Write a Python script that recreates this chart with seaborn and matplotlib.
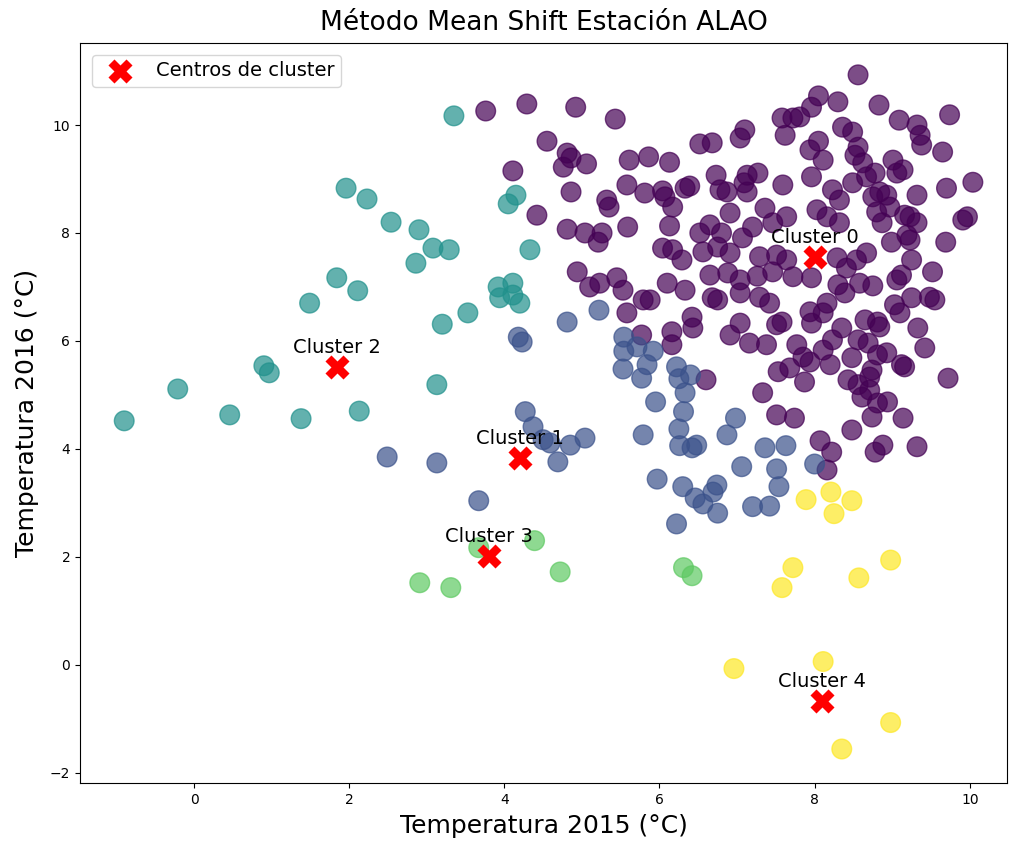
import matplotlib
matplotlib.use("Agg")
import matplotlib.pyplot as plt
import numpy as np
import pandas as pd
import seaborn as sns

# ---- data ----
# Cluster 0 (purple)
c0_x = [3.76, 4.29, 4.92, 5.43, 4.55, 4.81, 4.86, 4.76, 5.06, 5.61, 4.11, 4.86, 5.58, 5.32, 5.35,
        4.42, 4.81, 5.04, 5.26, 5.21, 5.59, 4.94, 5.45, 5.23, 5.10, 5.53, 5.58,
        8.05, 7.96, 7.58, 7.72, 7.81, 7.62, 7.10, 7.04, 6.52, 6.68, 7.94, 5.86, 6.13, 6.73, 7.13,
        7.27, 7.09, 7.13, 6.78, 6.87, 6.39, 6.33, 7.59, 5.81, 6.04, 6.07, 6.17, 6.13, 7.96, 8.03,
        6.91, 7.36, 7.64, 6.52, 6.65, 6.80, 7.20, 7.46, 7.07, 6.04, 6.17, 6.29, 6.56, 6.75, 6.91,
        7.29, 7.51, 7.64,
        8.56, 8.30, 8.83, 9.74, 9.09, 9.32, 9.36, 9.38, 9.65, 8.36, 8.49, 8.56, 8.52, 8.05, 8.11,
        9.01, 9.14, 9.06, 8.62, 8.78, 8.49, 8.67, 8.84, 8.75, 8.93, 9.32, 9.70, 10.04, 8.80, 8.97,
        8.87, 9.16, 9.32, 9.23, 9.97, 9.91, 8.23, 8.32, 8.16, 8.32, 8.99, 9.19, 9.23, 9.69, 9.25,
        8.67, 8.54, 9.52,
        9.06, 9.12, 8.75, 8.58, 8.39, 8.30, 8.16, 8.11, 9.03, 9.10, 9.25, 9.55, 9.48, 8.65, 8.81,
        8.84, 9.33, 9.42, 8.35, 8.23, 8.56, 8.69, 8.48, 8.11, 8.20, 8.81, 8.93, 9.12, 9.16, 8.74,
        8.71, 9.72, 8.43, 8.56, 8.71, 8.61, 8.81, 8.94, 8.74, 9.14, 8.48, 8.78, 8.88, 9.32, 8.22,
        8.07, 8.16,
        6.10, 6.33, 6.65, 6.88, 7.04, 7.04, 6.68, 6.75, 5.79, 5.88, 6.42, 6.43, 6.16, 6.16, 5.77,
        6.91, 7.04, 7.16, 7.38, 7.29, 7.42, 7.51, 7.58, 7.94, 7.96, 7.77, 7.85, 7.94, 7.53, 7.68,
        7.87, 7.33, 7.51, 7.74, 6.60,
        7.26, 7.46, 7.72, 7.96, 8.29, 8.41]
c0_y = [10.26, 10.39, 10.33, 10.11, 9.70, 9.48, 9.39, 9.22, 9.28, 9.35, 9.15, 8.76, 8.89, 8.61, 8.48,
        8.33, 8.07, 8.00, 8.00, 7.83, 8.11, 7.28, 7.17, 7.07, 7.00, 6.94, 6.52,
        10.54, 10.33, 10.13, 10.13, 10.15, 9.81, 9.91, 9.76, 9.65, 9.67, 9.54, 9.41, 9.31, 9.07, 9.07,
        9.11, 8.93, 8.76, 8.80, 8.76, 8.87, 8.83, 8.89, 8.74, 8.78, 8.67, 8.48, 8.13, 9.04, 8.43,
        8.37, 8.46, 8.30, 8.00, 8.15, 8.00, 8.11, 8.19, 7.91, 7.72, 7.69, 7.50, 7.65, 7.74, 7.63,
        7.56, 7.59, 7.50,
        10.93, 10.43, 10.37, 10.19, 10.09, 10.00, 9.81, 9.63, 9.50, 9.96, 9.87, 9.59, 9.44, 9.70, 9.35,
        9.35, 9.17, 9.11, 9.30, 9.11, 8.93, 9.04, 8.76, 8.67, 8.70, 8.70, 8.83, 8.94, 8.39, 8.48,
        8.19, 8.33, 8.19, 8.30, 8.30, 8.24, 8.80, 8.61, 8.30, 8.19, 7.83, 7.96, 7.87, 7.83, 7.50,
        7.63, 7.50, 7.28,
        7.13, 7.22, 7.02, 7.07, 6.89, 7.04, 6.70, 6.52, 6.67, 6.52, 6.80, 6.76, 6.81, 6.39, 6.35,
        6.26, 6.24, 5.87, 6.24, 6.02, 6.02, 5.96, 5.69, 5.83, 5.56, 5.74, 5.78, 5.56, 5.52, 5.46,
        5.33, 5.31, 5.28, 5.19, 5.09, 4.96, 4.85, 4.87, 4.59, 4.57, 4.35, 3.94, 4.07, 4.04, 3.94,
        4.15, 3.61,
        7.07, 6.94, 7.22, 7.26, 7.13, 6.89, 6.80, 6.76, 6.76, 6.76, 6.44, 6.24, 6.17, 5.93, 6.11,
        6.11, 6.33, 5.96, 5.93, 6.81, 6.70, 6.30, 6.35, 6.54, 6.33, 5.93, 5.70, 5.61, 5.43, 5.50,
        5.24, 5.04, 4.63, 4.57, 5.28,
        7.20, 7.28, 7.19, 7.17, 7.54, 7.35]

# Cluster 1 (blue)
c1_x = [2.49, 3.13, 3.67, 4.18, 4.23, 4.27, 4.37, 4.50, 4.59, 4.85, 5.04, 4.69, 4.81, 5.22, 5.54,
        5.54, 5.71, 5.92, 5.53, 5.84, 5.77, 6.22, 6.25, 6.40, 6.33, 6.31, 5.95, 6.25, 5.79, 6.26,
        6.42, 6.48, 6.98, 6.87, 7.36, 7.63, 7.06, 7.51, 8.00, 5.97, 6.30, 6.46, 6.56, 6.69, 6.74,
        6.75, 7.20, 7.42, 7.54, 6.22]
c1_y = [3.85, 3.74, 3.04, 6.07, 5.98, 4.69, 4.41, 4.17, 4.11, 4.07, 4.20, 3.76, 6.35, 6.57, 6.07,
        5.81, 5.89, 5.81, 5.48, 5.56, 5.31, 5.52, 5.30, 5.37, 5.04, 4.69, 4.87, 4.37, 4.26, 4.06,
        4.02, 4.07, 4.57, 4.26, 4.02, 4.06, 3.67, 3.63, 3.72, 3.44, 3.30, 3.09, 2.98, 3.20, 3.33,
        2.81, 2.93, 2.94, 3.30, 2.61]

# Cluster 2 (teal)
c2_x = [-0.90, -0.21, 0.46, 0.90, 0.97, 1.38, 1.84, 1.96, 2.23, 2.54, 2.90, 3.08, 3.29, 2.86, 3.35,
        2.11, 1.49, 3.13, 2.13, 3.53, 3.20, 3.92, 4.11, 3.94, 4.11, 4.20, 4.15, 4.05, 4.33]
c2_y = [4.52, 5.11, 4.63, 5.54, 5.41, 4.56, 7.17, 8.83, 8.63, 8.20, 8.06, 7.72, 7.69, 7.44, 10.17,
        6.93, 6.70, 5.19, 4.70, 6.52, 6.31, 7.00, 7.07, 6.80, 6.85, 6.70, 8.70, 8.54, 7.69]

# Cluster 3 (green)
c3_x = [2.91, 3.31, 3.67, 4.39, 4.72, 6.31, 6.42]
c3_y = [1.52, 1.43, 2.17, 2.30, 1.72, 1.80, 1.65]

# Cluster 4 (yellow)
c4_x = [7.89, 8.21, 8.48, 8.25, 7.72, 7.58, 8.57, 8.98, 6.96, 8.11, 8.98, 8.35]
c4_y = [3.06, 3.20, 3.04, 2.80, 1.80, 1.43, 1.61, 1.94, -0.07, 0.06, -1.07, -1.56]

# Cluster centres
centre_x = [8.00, 4.20, 1.84, 3.80, 8.09]
centre_y = [7.56, 3.83, 5.52, 2.02, -0.67]
centre_labels = ["Cluster 0", "Cluster 1", "Cluster 2", "Cluster 3", "Cluster 4"]

# ---- build table ----
xs = [c0_x, c1_x, c2_x, c3_x, c4_x]
ys = [c0_y, c1_y, c2_y, c3_y, c4_y]
frames = [pd.DataFrame({"x": x, "y": y, "cluster": k}) for k, (x, y) in enumerate(zip(xs, ys))]
df = pd.concat(frames, ignore_index=True)
centres = pd.DataFrame({"x": centre_x, "y": centre_y})

palette = {k: plt.cm.viridis(k / 4) for k in range(5)}

fig = plt.figure(figsize=(10.09, 8.46), dpi=100)
ax = fig.add_axes([80 / 1009, 63 / 846, 927 / 1009, 740 / 846])

sns.scatterplot(data=df, x="x", y="y", hue="cluster", palette=palette, s=200,
                alpha=0.7, edgecolor="face", linewidth=1, legend=False, ax=ax)
sns.scatterplot(data=centres, x="x", y="y", marker="X", s=300, color="red",
                linewidth=0, label="Centros de cluster", ax=ax)

for lab, cxv, cyv in zip(centre_labels, centre_x, centre_y):
    ax.annotate(lab, (cxv, cyv), textcoords="offset points", xytext=(0, 10),
                ha="center", fontsize=14)

ax.set_xlim(-1.47, 10.48)
ax.set_ylim(-2.19, 11.52)
ax.set_xticks([0, 2, 4, 6, 8, 10])
ax.set_yticks([-2, 0, 2, 4, 6, 8, 10])
ax.tick_params(labelsize=10)
ax.set_title("Método Mean Shift Estación ALAO", fontsize=19, pad=9)
ax.set_xlabel("Temperatura 2015 (°C)", fontsize=18, labelpad=5)
ax.set_ylabel("Temperatura 2016 (°C)", fontsize=18, labelpad=8)
ax.legend(loc="upper left", fontsize=14, borderpad=0.35, handletextpad=0.75,
          handlelength=2.2, borderaxespad=0.6)

fig.savefig("out.png", dpi=100)
